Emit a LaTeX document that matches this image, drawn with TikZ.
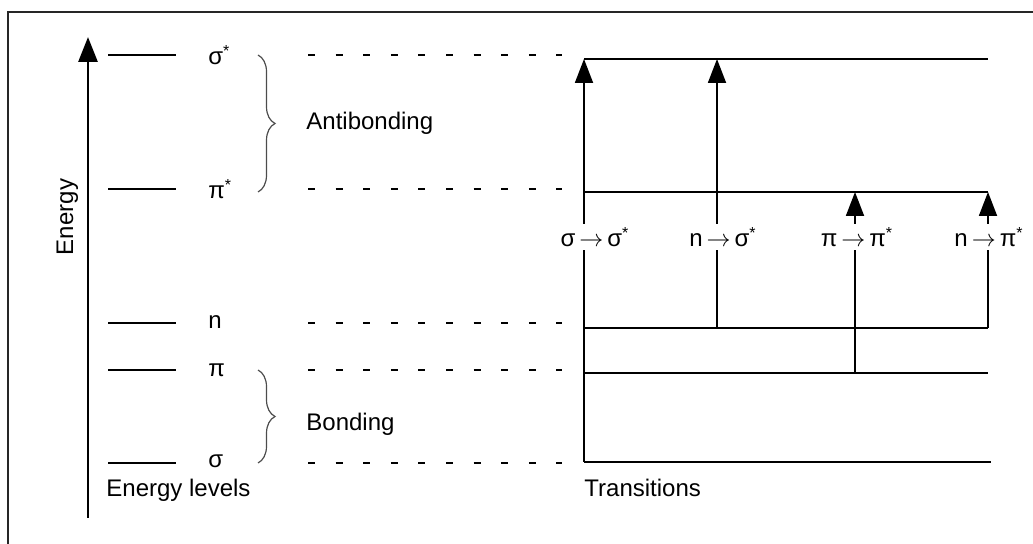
\documentclass[tikz,border=0pt]{standalone}
\usepackage{fontspec}
\setmainfont{Liberation Sans}
\usetikzlibrary{arrows.meta,decorations.pathreplacing}
\newcommand{\trarrow}{\hspace{2pt}$\rightarrow$\hspace{2pt}}
\begin{document}
\begin{tikzpicture}[x=0.5pt,y=-0.5pt,
  font=\fontsize{12}{14}\selectfont,
  frame/.style={line width=0.8pt, black!85},
  lvl/.style={line width=0.75pt},
  dsh/.style={line width=0.75pt, dash pattern=on 3.5pt off 10.3pt},
  trl/.style={line width=0.9pt},
  up/.style={trl, -{Triangle[length=12pt,width=9pt]}},
  txt/.style={inner sep=0pt, anchor=base west},
  tlab/.style={fill=white, inner sep=1.5pt, anchor=base},
  brc/.style={decorate, decoration={brace, amplitude=8.5pt}, gray!60!black, line width=0.6pt}]
\useasboundingbox (0,0) rectangle (1033,544);
% frame (cropped)
\coordinate (fr1) at (1033,12);
\coordinate (fr2) at (8,12);
\coordinate (fr3) at (8,544);
\draw[frame] (fr1) -- (fr2) -- (fr3);
% energy axis
\coordinate (ax0) at (88,518);
\coordinate (ax1) at (88,37);
\draw[line width=1.4pt, -{Triangle[length=12.5pt,width=9.5pt]}] (ax0) -- (ax1);
\node[rotate=90, anchor=base, inner sep=0pt] (energy) at (73,217) {Energy};
% levels
\foreach \n/\y/\b/\t in {ss/55/65/{σ\textsuperscript{*}}, ps/189/199/{π\textsuperscript{*}}, n/323/329/n, p/370/377/π, s/463/468/σ} {
  \coordinate (\n L) at (108,\y);
  \coordinate (\n R) at (176,\y);
  \draw[lvl] (\n L) -- (\n R);
  \node[txt] (\n lab) at (208,\b) {\t};
  \coordinate (\n D1) at (308,\y);
  \coordinate (\n D2) at (562,\y);
  \draw[dsh] (\n D1) -- (\n D2);
}
% braces
\coordinate (ab1) at (258,55);
\coordinate (ab2) at (258,192);
\draw[brc] (ab1) -- (ab2);
\coordinate (bb1) at (258,370);
\coordinate (bb2) at (258,463);
\draw[brc] (bb1) -- (bb2);
\node[txt] (anti) at (306,130) {Antibonding};
\node[txt] (bond) at (306,431) {Bonding};
\node[txt] (elev) at (106,497) {Energy levels};
\node[txt] (trans) at (584,497) {Transitions};
% transition levels
\foreach \n/\y/\r in {ss/59/988, ps/192/988, n/328/988, p/373/988, s/462/991} {
  \coordinate (T\n L) at (584,\y);
  \coordinate (T\n R) at (\r,\y);
  \draw[trl] (T\n L) -- (T\n R);
}
% transition arrows
\coordinate (a1b) at (584,462);  \coordinate (a1t) at (584,59);
\coordinate (a2b) at (717,328);  \coordinate (a2t) at (717,59);
\coordinate (a3b) at (855,373);  \coordinate (a3t) at (855,192);
\coordinate (a4b) at (988,328);  \coordinate (a4t) at (988,192);
\draw[up] (a1b) -- (a1t);
\draw[up] (a2b) -- (a2t);
\draw[up] (a3b) -- (a3t);
\draw[up] (a4b) -- (a4t);
\node[tlab] (t1) at (595,247) {σ\trarrow σ\textsuperscript{*}};
\node[tlab] (t2) at (723,247) {n\trarrow σ\textsuperscript{*}};
\node[tlab] (t3) at (857,247) {π\trarrow π\textsuperscript{*}};
\node[tlab] (t4) at (989,247) {n\trarrow π\textsuperscript{*}};
\end{tikzpicture}
\end{document}
